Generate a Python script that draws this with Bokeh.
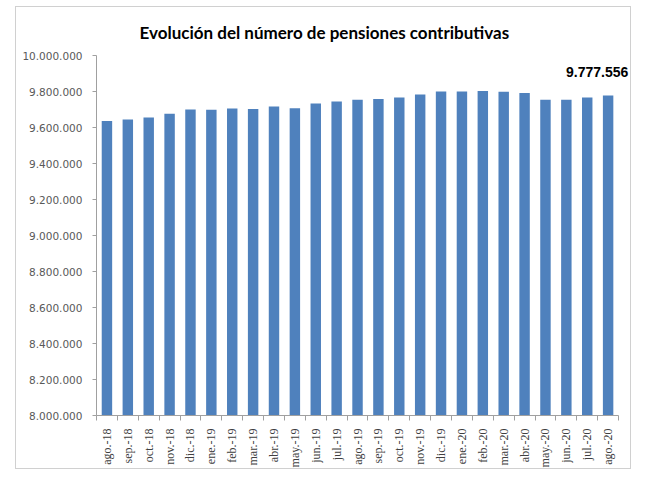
import math
from bokeh.plotting import figure
from bokeh.models import FixedTicker, Label
from bokeh.embed import file_html
from bokeh.resources import INLINE

categories = ["ago.-18", "sep.-18", "oct.-18", "nov.-18", "dic.-18", "ene.-19",
              "feb.-19", "mar.-19", "abr.-19", "may.-19", "jun.-19", "jul.-19",
              "ago.-19", "sep.-19", "oct.-19", "nov.-19", "dic.-19", "ene.-20",
              "feb.-20", "mar.-20", "abr.-20", "may.-20", "jun.-20", "jul.-20",
              "ago.-20"]
pensiones = [9636000, 9644000, 9655000, 9676000, 9700000, 9698000, 9705000,
             9703000, 9716000, 9707000, 9733000, 9744000, 9754000, 9759000,
             9766000, 9783000, 9800000, 9800000, 9803000, 9798000, 9792000,
             9754000, 9754000, 9766000, 9777556]
y_ticks = [8000000, 8200000, 8400000, 8600000, 8800000, 9000000,
           9200000, 9400000, 9600000, 9800000, 10000000]
y_tick_labels = ["8.000.000", "8.200.000", "8.400.000", "8.600.000", "8.800.000",
                 "9.000.000", "9.200.000", "9.400.000", "9.600.000", "9.800.000",
                 "10.000.000"]
title_text = "Evolución del número de pensiones contributivas"

n = len(categories)
xs = list(range(n))

# extra room on the right of the frame so the data label is not clipped
p = figure(width=616, height=463, output_backend="svg", toolbar_location=None,
           x_range=(-0.5, n - 0.5 + 0.62), y_range=(8000000, 10000000),
           min_border_left=80, min_border_right=1, min_border_top=46,
           min_border_bottom=55, title=title_text)
p.margin = (6, 0, 0, 15)
p.styles = {"border": "1px solid #d0d0d0"}
p.outline_line_color = None
p.background_fill_color = "white"
p.border_fill_color = "white"
p.grid.visible = False

p.title.align = "left"
p.title.offset = 43
p.title.standoff = 25
p.title.text_font = "Lato"
p.title.text_font_size = "17px"
p.title.text_font_style = "bold"
p.title.text_color = "#000000"

p.vbar(x=xs, top=pensiones, bottom=8000000, width=0.5,
       fill_color="#4F81BD", line_color=None)

# y axis
p.yaxis.ticker = FixedTicker(ticks=y_ticks)
p.yaxis.major_label_overrides = {t: l for t, l in zip(y_ticks, y_tick_labels)}
p.yaxis.axis_line_color = "#a0a0a0"
p.yaxis.major_tick_line_color = "#a0a0a0"
p.yaxis.major_tick_out = 4
p.yaxis.major_tick_in = 0
p.yaxis.minor_tick_line_color = None
p.yaxis.major_label_text_font = "DejaVu Sans"
p.yaxis.major_label_text_font_size = "10.5px"
p.yaxis.major_label_text_color = "#595959"
p.yaxis.major_label_standoff = 10

# x axis
p.xaxis.bounds = (-0.5, n - 0.5)
p.xaxis.ticker = FixedTicker(ticks=xs, minor_ticks=[i - 0.5 for i in range(n + 1)])
p.xaxis.major_label_overrides = {i: c for i, c in enumerate(categories)}
p.xaxis.major_label_orientation = math.pi / 2
p.xaxis.axis_line_color = "#a0a0a0"
p.xaxis.major_tick_line_color = None
p.xaxis.major_tick_out = 0
p.xaxis.major_tick_in = 0
p.xaxis.minor_tick_line_color = "#a0a0a0"
p.xaxis.minor_tick_out = 5
p.xaxis.minor_tick_in = 0
p.xaxis.major_label_text_font = "Liberation Serif"
p.xaxis.major_label_text_font_size = "12px"
p.xaxis.major_label_text_color = "#404040"
p.xaxis.major_label_standoff = 8

last = pensiones[-1]
last_txt = f"{last:,}".replace(",", ".")
p.add_layout(Label(x=xs[-1], y=last, text=last_txt, x_offset=-11, y_offset=24,
                   text_align="center", text_baseline="middle",
                   text_font="Liberation Sans", text_font_size="14px",
                   text_font_style="bold", text_color="#000000"))

open("out.html", "w").write(file_html(p, INLINE))
